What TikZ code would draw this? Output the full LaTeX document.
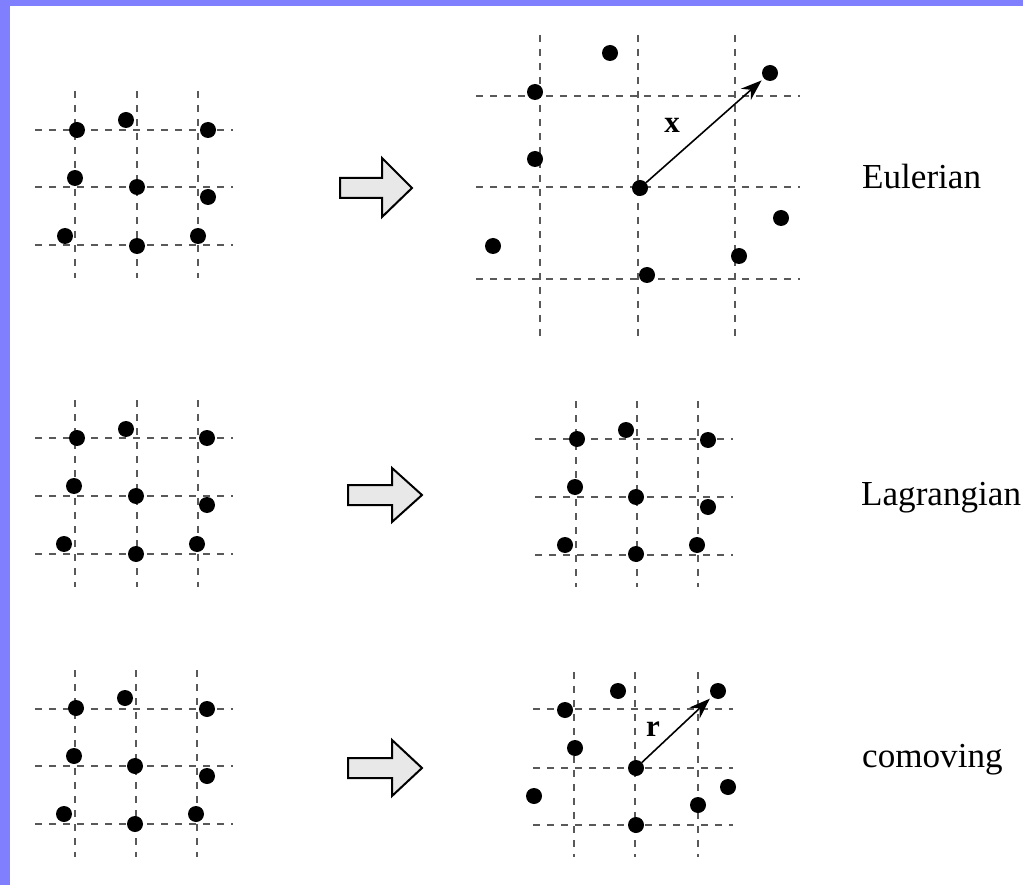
\documentclass[tikz,border=0pt]{standalone}
\usepackage{fontspec}
\setmainfont{Liberation Serif}
\usetikzlibrary{arrows.meta}
\definecolor{frameblue}{HTML}{8080FF}
\definecolor{arrowfill}{HTML}{E8E8E8}
\tikzset{
  gridline/.style={draw=black!65, line width=1.2pt, dash pattern=on 7pt off 7pt},
  dot/.style={circle, fill=black, minimum size=16pt, inner sep=0pt},
  blockarrow/.style={draw=black, fill=arrowfill, line width=2pt, line join=miter},
  vec/.style={-{Stealth[length=21pt,width=15pt]}, line width=1.6pt, shorten >=3pt},
  veclabel/.style={font=\fontsize{31}{35}\selectfont\bfseries, inner sep=0pt},
  rowlabel/.style={font=\fontsize{35.1}{42}\selectfont, anchor=base west, inner sep=0pt}
}
\begin{document}
\begin{tikzpicture}[x=1pt,y=-1pt]
\useasboundingbox (0,0) rectangle (1023,885);
\fill[frameblue] (0,0) rectangle (1023,885);
\fill[white] (10,6) rectangle (1023,885);

% ---------- row 1 left ----------
\foreach \x in {75,137,198} \draw[gridline] (\x,91) -- (\x,278);
\foreach \y in {130,187,245} \draw[gridline] (35,\y) -- (233,\y);
\node[dot] (a1) at (77,130) {};
\node[dot] (a2) at (126,120) {};
\node[dot] (a3) at (208,130) {};
\node[dot] (a4) at (75,178) {};
\node[dot] (a5) at (137,187) {};
\node[dot] (a6) at (208,197) {};
\node[dot] (a7) at (65,236) {};
\node[dot] (a8) at (137,246) {};
\node[dot] (a9) at (198,236) {};

% ---------- row 1 arrow ----------
\draw[blockarrow] (340,178) -- (382,178) -- (382,158) -- (412,188) -- (382,217) -- (382,198) -- (340,198) -- cycle;

% ---------- row 1 right (Eulerian) ----------
\foreach \x in {540,638,735} \draw[gridline] (\x,35) -- (\x,340);
\foreach \y in {96,187,279} \draw[gridline] (476,\y) -- (800,\y);
\node[dot] (e1) at (610,53) {};
\node[dot] (e2) at (770,73) {};
\node[dot] (e3) at (535,92) {};
\node[dot] (e4) at (535,159) {};
\node[dot] (e5) at (640,188) {};
\node[dot] (e6) at (493,246) {};
\node[dot] (e7) at (781,218) {};
\node[dot] (e8) at (739,256) {};
\node[dot] (e9) at (647,275) {};
\draw[vec] (e5) -- (e2);
\node[veclabel] (xl) at (672,125) {x};
\node[rowlabel] (eul) at (862,189) {Eulerian};

% ---------- row 2 left ----------
\foreach \x in {75,137,198} \draw[gridline] (\x,400) -- (\x,587);
\foreach \y in {438,496,554} \draw[gridline] (35,\y) -- (233,\y);
\node[dot] (b1) at (77,438) {};
\node[dot] (b2) at (126,429) {};
\node[dot] (b3) at (207,438) {};
\node[dot] (b4) at (74,486) {};
\node[dot] (b5) at (136,496) {};
\node[dot] (b6) at (207,505) {};
\node[dot] (b7) at (64,544) {};
\node[dot] (b8) at (136,554) {};
\node[dot] (b9) at (197,544) {};

% ---------- row 2 arrow ----------
\draw[blockarrow] (348,485) -- (392,485) -- (392,468) -- (422,495) -- (392,522) -- (392,505) -- (348,505) -- cycle;

% ---------- row 2 right (Lagrangian) ----------
\foreach \x in {576,637,698} \draw[gridline] (\x,401) -- (\x,587);
\foreach \y in {439,497,555} \draw[gridline] (535,\y) -- (733,\y);
\node[dot] (l1) at (577,439) {};
\node[dot] (l2) at (626,430) {};
\node[dot] (l3) at (708,440) {};
\node[dot] (l4) at (575,487) {};
\node[dot] (l5) at (636,497) {};
\node[dot] (l6) at (708,507) {};
\node[dot] (l7) at (565,545) {};
\node[dot] (l8) at (636,554) {};
\node[dot] (l9) at (697,545) {};
\node[rowlabel] (lag) at (861,505) {Lagrangian};

% ---------- row 3 left ----------
\foreach \x in {75,136,197} \draw[gridline] (\x,670) -- (\x,857);
\foreach \y in {709,766,824} \draw[gridline] (35,\y) -- (233,\y);
\node[dot] (c1) at (76,708) {};
\node[dot] (c2) at (125,698) {};
\node[dot] (c3) at (207,709) {};
\node[dot] (c4) at (74,756) {};
\node[dot] (c5) at (135,766) {};
\node[dot] (c6) at (207,776) {};
\node[dot] (c7) at (64,814) {};
\node[dot] (c8) at (135,824) {};
\node[dot] (c9) at (196,814) {};

% ---------- row 3 arrow ----------
\draw[blockarrow] (348,758) -- (392,758) -- (392,740) -- (422,768) -- (392,796) -- (392,778) -- (348,778) -- cycle;

% ---------- row 3 right (comoving) ----------
\foreach \x in {574,635,698} \draw[gridline] (\x,672) -- (\x,857);
\foreach \y in {709,768,825} \draw[gridline] (533,\y) -- (733,\y);
\node[dot] (m1) at (618,691) {};
\node[dot] (m2) at (718,691) {};
\node[dot] (m3) at (565,710) {};
\node[dot] (m4) at (575,748) {};
\node[dot] (m5) at (636,768) {};
\node[dot] (m6) at (534,796) {};
\node[dot] (m7) at (728,787) {};
\node[dot] (m8) at (698,805) {};
\node[dot] (m9) at (636,825) {};
\draw[vec] (m5) -- (m2);
\node[veclabel] (rl) at (653,729) {r};
\node[rowlabel] (com) at (862,767) {comoving};
\end{tikzpicture}
\end{document}
